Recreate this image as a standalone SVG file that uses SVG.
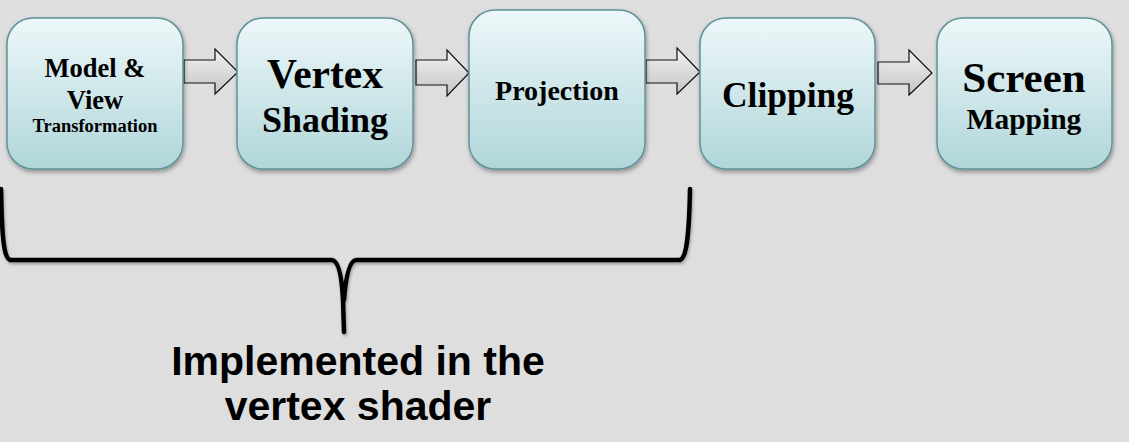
<svg xmlns="http://www.w3.org/2000/svg" width="1129" height="442" viewBox="0 0 1129 442">
<defs>
<linearGradient id="boxg" x1="0" y1="0" x2="0" y2="1">
<stop offset="0" stop-color="#edf7f9"/>
<stop offset="1" stop-color="#b0d6da"/>
</linearGradient>
<linearGradient id="arrg" x1="0" y1="0" x2="0" y2="1">
<stop offset="0" stop-color="#f2f2f2"/>
<stop offset="1" stop-color="#c4c4c4"/>
</linearGradient>
<filter id="sh" x="-10%" y="-10%" width="120%" height="125%">
<feDropShadow dx="1" dy="2.5" stdDeviation="2" flood-color="#000" flood-opacity="0.35"/>
</filter>
<filter id="sh2" x="-5%" y="-5%" width="110%" height="120%">
<feDropShadow dx="1" dy="2" stdDeviation="1.5" flood-color="#000" flood-opacity="0.3"/>
</filter>
</defs>
<style>
.box{fill:url(#boxg);stroke:#5f9299;stroke-width:1.5;filter:url(#sh)}
.arr{fill:url(#arrg);stroke:#111;stroke-width:1.2;stroke-linejoin:miter}
.t{font-family:"Liberation Serif","Times New Roman",serif;font-weight:bold;fill:#000;text-anchor:middle}
.cap{font-family:"Liberation Sans",Arial,sans-serif;font-weight:bold;font-size:41px;fill:#000;text-anchor:middle}
.brace{fill:none;stroke:#000;stroke-width:4.5;stroke-linecap:round;stroke-linejoin:round;filter:url(#sh2)}
</style>
<rect width="1129" height="442" fill="#dedede"/>
<g id="connectors">
<path class="arr" d="M184,60 H215 V49 L238,72 L215,94 V83 H184 Z"/>
<path class="arr" d="M416,60 H447 V50 L469,73 L447,96 V85 H416 Z"/>
<path class="arr" d="M646,60 H677 V48 L700,72 L677,94 V83 H646 Z"/>
<path class="arr" d="M878,62 H909 V50 L932,73 L909,95 V84 H878 Z"/>
</g>
<g id="node-model-view">
<rect class="box" x="7" y="18" width="176" height="151" rx="26"/>
<text class="t" x="95" y="77" font-size="26.5">Model &amp;</text>
<text class="t" x="95" y="109" font-size="26.5">View</text>
<text class="t" x="95" y="132" font-size="18.5">Transformation</text>
</g>
<g id="node-vertex-shading">
<rect class="box" x="237" y="18" width="176" height="151" rx="26"/>
<text class="t" x="325" y="88" font-size="41.5">Vertex</text>
<text class="t" x="325" y="132" font-size="36">Shading</text>
</g>
<g id="node-projection">
<rect class="box" x="469" y="10" width="176" height="159" rx="26"/>
<text class="t" x="557" y="100" font-size="28">Projection</text>
</g>
<g id="node-clipping">
<rect class="box" x="700" y="18" width="175" height="151" rx="26"/>
<text class="t" x="788" y="107" font-size="35.5">Clipping</text>
</g>
<g id="node-screen-mapping">
<rect class="box" x="937" y="18" width="175" height="151" rx="26"/>
<text class="t" x="1024" y="92" font-size="43">Screen</text>
<text class="t" x="1024" y="129" font-size="29.5">Mapping</text>
</g>
<g id="brace-group">
<path class="brace" d="M1,189 C2,240 4,258 10,260 L332,260 Q341,261 343,300 L344,332 M344,300 Q347,261 356,260 L680,260 C686,258 689,240 690,189"/>
<text class="cap" x="358" y="375">Implemented in the</text>
<text class="cap" x="358" y="420">vertex shader</text>
</g>
</svg>
